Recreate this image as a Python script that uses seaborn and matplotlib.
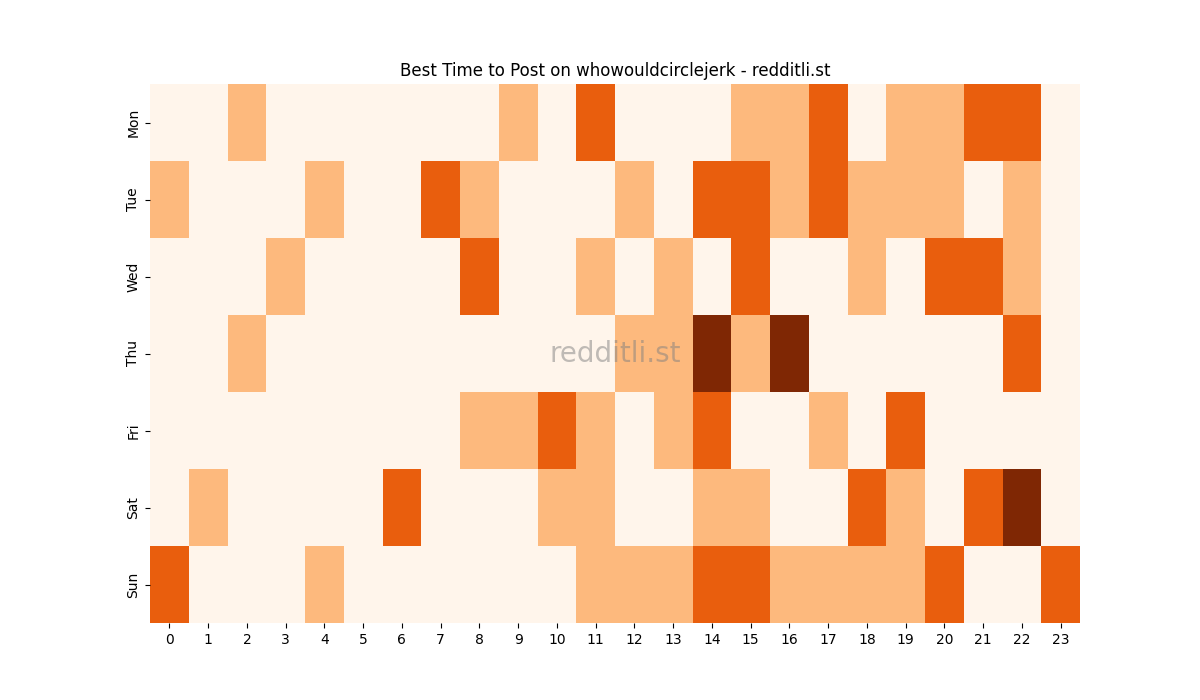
import matplotlib
matplotlib.use("Agg")
import matplotlib.pyplot as plt
import pandas as pd
import seaborn as sns

days = ["Mon", "Tue", "Wed", "Thu", "Fri", "Sat", "Sun"]
hours = list(range(24))

mon = [0, 0, 1, 0, 0, 0, 0, 0, 0, 1, 0, 2, 0, 0, 0, 1, 1, 2, 0, 1, 1, 2, 2, 0]
tue = [1, 0, 0, 0, 1, 0, 0, 2, 1, 0, 0, 0, 1, 0, 2, 2, 1, 2, 1, 1, 1, 0, 1, 0]
wed = [0, 0, 0, 1, 0, 0, 0, 0, 2, 0, 0, 1, 0, 1, 0, 2, 0, 0, 1, 0, 2, 2, 1, 0]
thu = [0, 0, 1, 0, 0, 0, 0, 0, 0, 0, 0, 0, 1, 1, 3, 1, 3, 0, 0, 0, 0, 0, 2, 0]
fri = [0, 0, 0, 0, 0, 0, 0, 0, 1, 1, 2, 1, 0, 1, 2, 0, 0, 1, 0, 2, 0, 0, 0, 0]
sat = [0, 1, 0, 0, 0, 0, 2, 0, 0, 0, 1, 1, 0, 0, 1, 1, 0, 0, 2, 1, 0, 2, 3, 0]
sun = [2, 0, 0, 0, 1, 0, 0, 0, 0, 0, 0, 1, 1, 1, 2, 2, 1, 1, 1, 1, 2, 0, 0, 2]

data = pd.DataFrame([mon, tue, wed, thu, fri, sat, sun], index=days, columns=hours)

fig, ax = plt.subplots(figsize=(12, 7), dpi=100)
sns.heatmap(data, cmap="Oranges", vmin=0, vmax=3, cbar=False, ax=ax)

ax.set_title("Best Time to Post on whowouldcirclejerk - redditli.st")
ax.text(0.5, 0.5, "redditli.st", transform=ax.transAxes, ha="center", va="center",
        fontsize=20, color="gray", alpha=0.5)

plt.savefig("out.png", dpi=100)
